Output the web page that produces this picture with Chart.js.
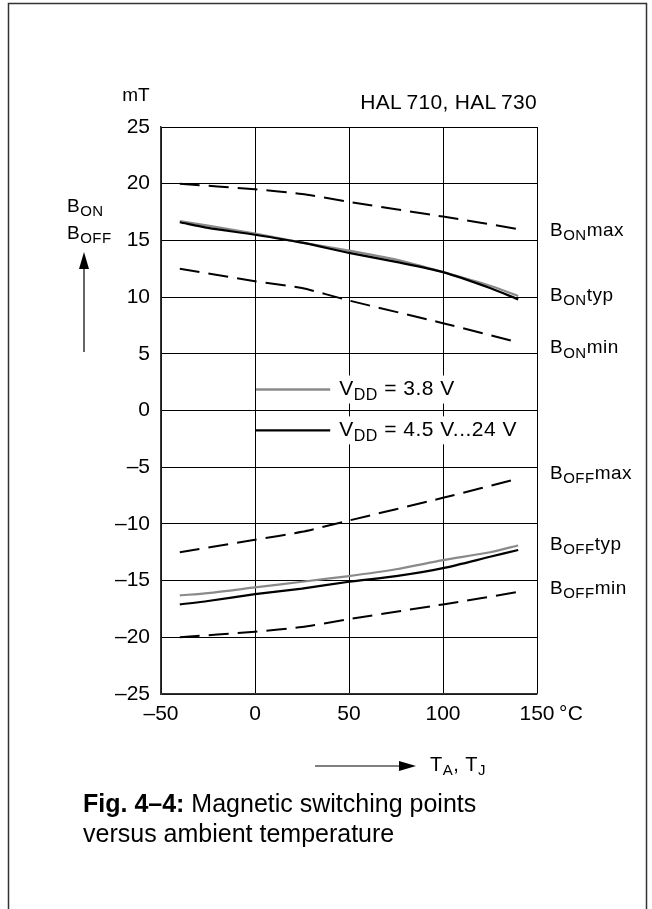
<!DOCTYPE html>
<html>
<head>
<meta charset="utf-8">
<script src="https://cdn.jsdelivr.net/npm/chart.js@4/dist/chart.umd.min.js"></script>
<style>
  body { margin: 0; background: #fff; }
  canvas { display: block; }
</style>
</head>
<body>
<canvas id="switchChart" width="652" height="909"></canvas>
<script>
// temperatures in °C
const limitTemps = [-40, 0, 25, 50, 100, 140];
const typTemps = [-40, -25, 0, 25, 50, 75, 100, 125, 140];

// limit curves (mT)
const bOnMax = [20, 19.5, 19.1, 18.4, 17.1, 16];
const bOnMin = [12.5, 11.4, 10.8, 9.7, 7.7, 6];
const bOffMax = [-12.5, -11.4, -10.7, -9.7, -7.7, -6];
const bOffMin = [-20, -19.5, -19.1, -18.4, -17.1, -16];

// typical curves (mT)
const bOnTyp38 = [16.7, 16.3, 15.6, 14.8, 14.1, 13.3, 12.2, 11.0, 10.1];
const bOnTyp45 = [16.6, 16.1, 15.5, 14.8, 13.9, 13.1, 12.2, 10.8, 9.8];
const bOffTyp38 = [-16.3, -16.1, -15.6, -15.1, -14.6, -14.0, -13.2, -12.5, -11.9];
const bOffTyp45 = [-17.1, -16.8, -16.2, -15.7, -15.1, -14.6, -13.9, -12.9, -12.3];

// curve names on the right and where they sit (mT)
const curveNames = [["ON", "max"], ["ON", "typ"], ["ON", "min"], ["OFF", "max"], ["OFF", "typ"], ["OFF", "min"]];
const curveNameY = [15.85, 10.1, 5.5, -5.6, -11.8, -15.7];

// legend
const legendText = ["= 3.8 V", "= 4.5 V...24 V"];
const legendY = [1.85, -1.75];
const legendX = [0, 40];

const FONT = '"Liberation Sans", Arial, sans-serif';

function pts(xs, ys) {
  return xs.map((x, i) => ({ x: x, y: ys[i] }));
}

function dashed(data) {
  return {
    data: data,
    borderColor: "#000",
    borderWidth: 2,
    borderDash: [20, 9],
    pointRadius: 0,
    tension: 0.2,
    order: 1,
  };
}

function solid(data, color, order) {
  return {
    data: data,
    borderColor: color,
    borderWidth: 2.2,
    pointRadius: 0,
    tension: 0.25,
    order: order,
  };
}

function minus(v) {
  return String(v).replace("-", "\u2013");
}

// draws text with a subscript, returns the end x (draw=false only measures)
function subText(ctx, x, y, parts, size, subSize, draw = true) {
  let cx = x;
  parts.forEach((p) => {
    if (p.sub) {
      ctx.font = subSize + "px " + FONT;
      if (draw) ctx.fillText(p.t, cx, y + size * 0.28);
    } else {
      ctx.font = (p.bold ? "bold " : "") + size + "px " + FONT;
      if (draw) ctx.fillText(p.t, cx, y);
    }
    cx += ctx.measureText(p.t).width;
  });
  return cx;
}

const extras = {
  id: "extras",
  afterDraw(chart) {
    const ctx = chart.ctx;
    const xs = chart.scales.x;
    const ys = chart.scales.y;
    const area = chart.chartArea;
    ctx.save();
    ctx.fillStyle = "#000";
    ctx.strokeStyle = "#000";
    ctx.textBaseline = "middle";

    // outer frame
    ctx.lineWidth = 1.5;
    ctx.strokeStyle = "#333";
    ctx.strokeRect(8.5, 3.5, 638, 940);
    ctx.strokeStyle = "#000";

    // unit and title
    ctx.font = "19px " + FONT;
    ctx.textAlign = "center";
    ctx.fillText("mT", 136, 96);
    ctx.textAlign = "right";
    ctx.font = "21px " + FONT;
    ctx.letterSpacing = "0.3px";
    ctx.fillText("HAL\u2009710, HAL\u2009730", area.right, 103);
    ctx.textAlign = "left";
    ctx.fillText("\u00b0C", area.right + 22, 714);

    // left axis label and arrow
    ctx.letterSpacing = "0.5px";
    subText(ctx, 67, 207, [{ t: "B" }, { t: "ON", sub: true }], 19, 15);
    subText(ctx, 67, 234, [{ t: "B" }, { t: "OFF", sub: true }], 19, 15);
    ctx.lineWidth = 1.2;
    ctx.beginPath();
    ctx.moveTo(84, 352);
    ctx.lineTo(84, 265);
    ctx.stroke();
    ctx.beginPath();
    ctx.moveTo(84, 252);
    ctx.lineTo(79, 269);
    ctx.lineTo(89, 269);
    ctx.closePath();
    ctx.fill();

    // curve names
    curveNames.forEach((n, i) => {
      subText(ctx, area.right + 13, ys.getPixelForValue(curveNameY[i]),
        [{ t: "B" }, { t: n[0], sub: true }, { t: n[1] }], 19, 15);
    });

    // legend
    const lx0 = xs.getPixelForValue(legendX[0]) + 1;
    const lx1 = xs.getPixelForValue(legendX[1]);
    ["#8a8a8a", "#000"].forEach((c, i) => {
      const y = ys.getPixelForValue(legendY[i]);
      const parts = [{ t: "V" }, { t: "DD", sub: true }, { t: " " + legendText[i] }];
      const end = subText(ctx, lx1 + 9, y, parts, 21, 16, false);
      ctx.fillStyle = "#fff";
      ctx.fillRect(lx1 + 6, y - 14, end - lx1 - 2, 28);
      ctx.strokeStyle = c;
      ctx.lineWidth = 2.4;
      ctx.beginPath();
      ctx.moveTo(lx0, y);
      ctx.lineTo(lx1, y);
      ctx.stroke();
      ctx.fillStyle = "#000";
      subText(ctx, lx1 + 9, y, parts, 21, 16);
    });

    // temperature arrow
    ctx.strokeStyle = "#000";
    ctx.lineWidth = 1.2;
    ctx.beginPath();
    ctx.moveTo(315, 766);
    ctx.lineTo(402, 766);
    ctx.stroke();
    ctx.beginPath();
    ctx.moveTo(416, 766);
    ctx.lineTo(399, 761);
    ctx.lineTo(399, 771);
    ctx.closePath();
    ctx.fill();
    subText(ctx, 430, 765, [{ t: "T" }, { t: "A", sub: true }, { t: ", T" }, { t: "J", sub: true }], 20, 15);

    // caption
    ctx.letterSpacing = "0px";
    subText(ctx, 83, 805, [{ t: "Fig. 4\u20134:", bold: true }, { t: " Magnetic switching points" }], 25, 25);
    subText(ctx, 83, 835, [{ t: "versus ambient temperature" }], 25, 25);
    ctx.restore();
  },
};

const bgPlugin = {
  id: "bg",
  beforeDraw(chart) {
    const ctx = chart.ctx;
    ctx.save();
    ctx.fillStyle = "#fff";
    ctx.fillRect(0, 0, chart.width, chart.height);
    ctx.restore();
  },
};

const ctxChart = document.getElementById("switchChart").getContext("2d");

const switchChart = new Chart(ctxChart, {
  type: "line",
  data: {
    datasets: [
      dashed(pts(limitTemps, bOnMax)),
      dashed(pts(limitTemps, bOnMin)),
      dashed(pts(limitTemps, bOffMax)),
      dashed(pts(limitTemps, bOffMin)),
      solid(pts(typTemps, bOnTyp38), "#8a8a8a", 3),
      solid(pts(typTemps, bOffTyp38), "#8a8a8a", 3),
      solid(pts(typTemps, bOnTyp45), "#000", 2),
      solid(pts(typTemps, bOffTyp45), "#000", 2),
    ],
  },
  options: {
    responsive: false,
    devicePixelRatio: 1,
    animation: false,
    layout: { padding: { left: 0, right: 115, top: 127, bottom: 175 } },
    plugins: { legend: { display: false }, tooltip: { enabled: false } },
    scales: {
      x: {
        type: "linear",
        min: -50,
        max: 150,
        afterFit: (s) => { s.height = 40; },
        ticks: {
          stepSize: 50,
          padding: 8,
          color: "#000",
          font: { family: FONT, size: 21 },
          callback: (v) => minus(v),
          maxRotation: 0,
        },
        grid: { color: "#000", lineWidth: 1, drawTicks: false },
        border: { color: "#333", width: 1.5 },
      },
      y: {
        min: -25,
        max: 25,
        afterFit: (s) => { s.width = 161; },
        ticks: {
          stepSize: 5,
          padding: 11,
          color: "#000",
          font: { family: FONT, size: 21 },
          callback: (v) => minus(v),
        },
        grid: { color: "#000", lineWidth: 1, drawTicks: false },
        border: { color: "#333", width: 1.5 },
      },
    },
  },
  plugins: [bgPlugin, extras],
});
</script>
</body>
</html>
